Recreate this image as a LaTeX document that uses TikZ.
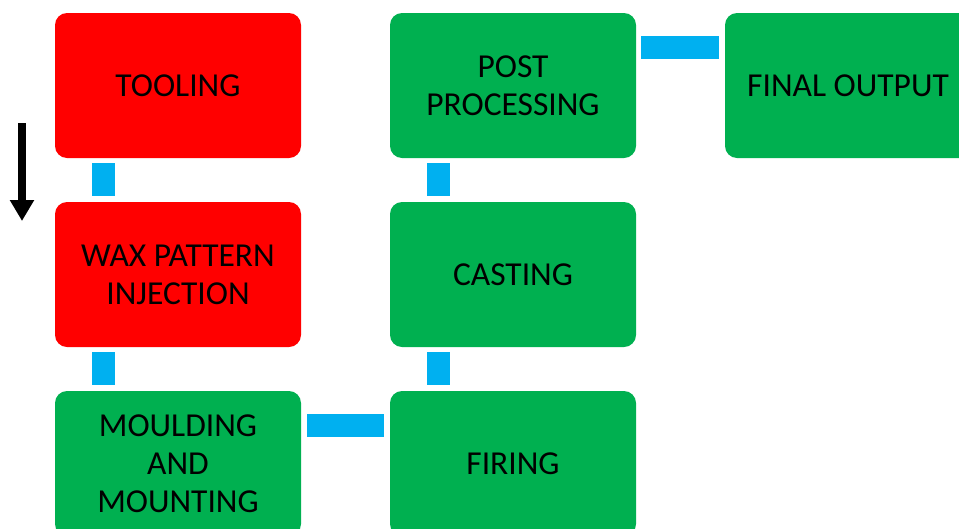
\documentclass[tikz,border=0pt]{standalone}
\usepackage{fontspec}
\setmainfont{Carlito}
\usetikzlibrary{arrows.meta}
\definecolor{boxred}{HTML}{FF0000}
\definecolor{boxgreen}{HTML}{00B050}
\definecolor{linkblue}{HTML}{00B0F0}
\begin{document}
\begin{tikzpicture}[x=1pt,y=-1pt,
  stage/.style={rounded corners=12pt, minimum width=246pt, minimum height=145pt, inner sep=0pt, align=center, font=\fontsize{33.5}{38}\selectfont, text=black},
  redstage/.style={stage, fill=boxred},
  greenstage/.style={stage, fill=boxgreen},
]
\clip (0,0) rectangle (959,528);
\useasboundingbox (0,0) rectangle (959,528);
\node[redstage] (tool) at (178,85.5) {TOOLING};
\node[redstage] (wax) at (178,274.5) {WAX PATTERN\\INJECTION};
\node[greenstage] (mould) at (178,463.5) {MOULDING\\AND\\MOUNTING};
\node[greenstage] (post) at (513,85.5) {POST\\PROCESSING};
\node[greenstage] (cast) at (513,274.5) {CASTING};
\node[greenstage] (fire) at (513,463.5) {FIRING};
\node[greenstage] (final) at (848,85.5) {FINAL OUTPUT};
% connectors
\fill[linkblue] ([xshift=-86pt,yshift=-5pt]tool.south) rectangle ([xshift=-63pt,yshift=6pt]wax.north);
\fill[linkblue] ([xshift=-86pt,yshift=-5pt]wax.south) rectangle ([xshift=-63pt,yshift=6pt]mould.north);
\fill[linkblue] ([xshift=-86pt,yshift=-5pt]cast.south) rectangle ([xshift=-63pt,yshift=6pt]fire.north);
\fill[linkblue] ([xshift=-86pt,yshift=-5pt]post.south) rectangle ([xshift=-63pt,yshift=6pt]cast.north);
\fill[linkblue] ([xshift=6pt,yshift=49.5pt]mould.east) rectangle ([xshift=-6pt,yshift=26.5pt]fire.west);
\fill[linkblue] ([xshift=5pt,yshift=49.5pt]post.east) rectangle ([xshift=-6pt,yshift=26.5pt]final.west);
% direction arrow
\coordinate (atop) at (22,123);
\coordinate (abot) at (22,221);
\draw[line width=8pt, -{Triangle[width=23pt,length=21pt]}] (atop) -- (abot);
\end{tikzpicture}
\end{document}
